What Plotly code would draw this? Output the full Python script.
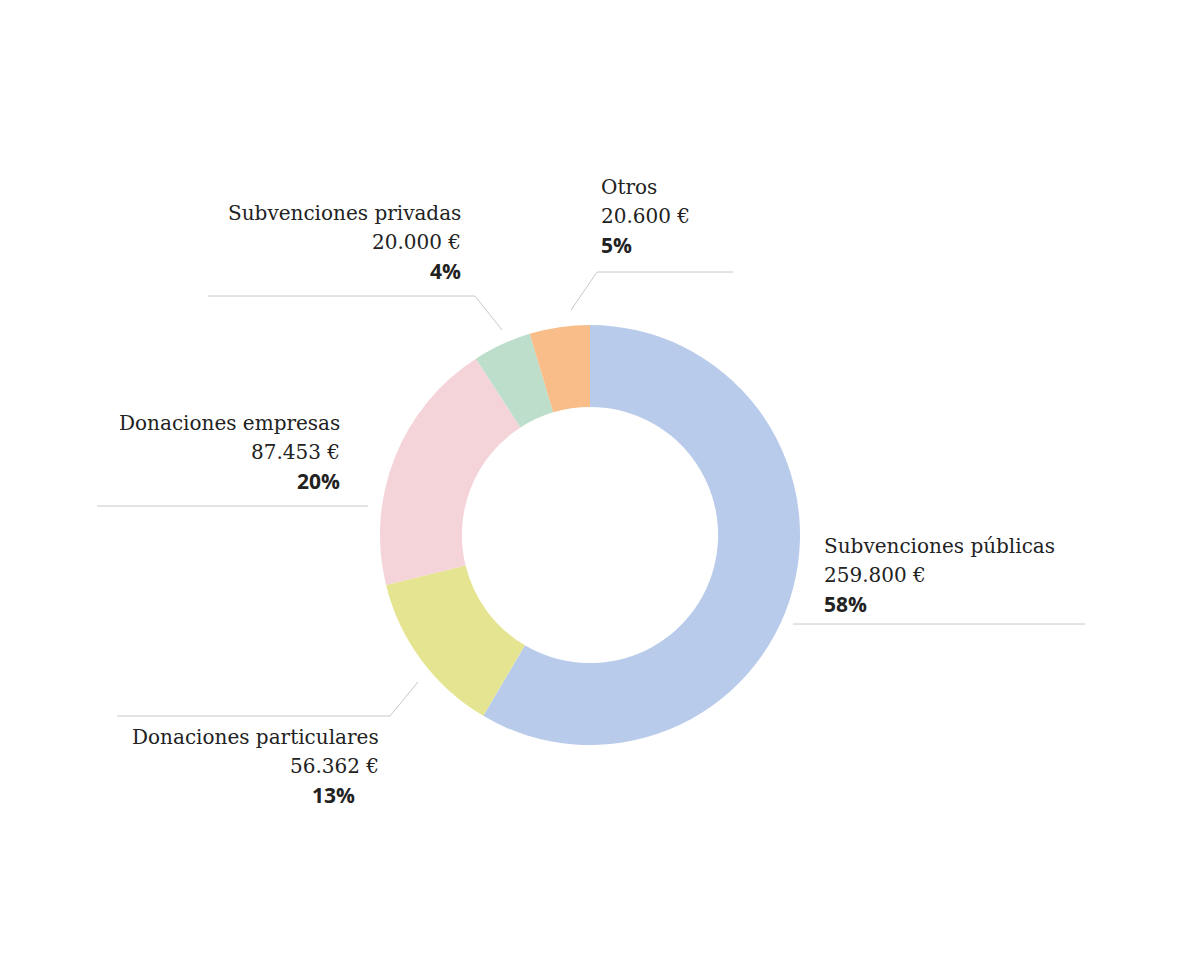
import plotly.graph_objects as go

labels = ["Subvenciones públicas", "Donaciones particulares", "Donaciones empresas", "Subvenciones privadas", "Otros"]
values = [259800, 56362, 87453, 20000, 20600]
amounts = ["259.800 €", "56.362 €", "87.453 €", "20.000 €", "20.600 €"]
percents = ["58%", "13%", "20%", "4%", "5%"]
colors = ["#b9cbeb", "#e5e491", "#f4d4d8", "#bcdeca", "#f8bd89"]

W, H = 1200, 980
def px(x): return (x - 8) / W
def py(y): return 1 - (y - 8) / H

fig = go.Figure(go.Pie(
    labels=labels, values=values, hole=0.61, sort=False, direction="clockwise",
    rotation=0, marker=dict(colors=colors), textinfo="none", hoverinfo="label+value",
    showlegend=False,
    domain=dict(x=[px(380), px(800)], y=[py(745), py(325)]),
))

place = [
    (822, 546, "left", 822),
    (381, 737, "right", 357),
    (342, 423, "right", 342),
    (463, 213, "right", 463),
    (599, 187, "left", 599),
]
serif = dict(family="DejaVu Serif", size=20, color="#222")
bold = dict(family="Open Sans", size=21, color="#222")
ann = []
for i, (x, y, anc, xp) in enumerate(place):
    ann.append(dict(x=px(x), y=py(y), text=labels[i], font=serif))
    ann.append(dict(x=px(x), y=py(y + 29), text=amounts[i], font=serif))
    ann.append(dict(x=px(xp), y=py(y + 58), text="<b>" + percents[i] + "</b>", font=bold))
    for a in ann[-3:]:
        a.update(xref="paper", yref="paper", xanchor=anc, yanchor="middle", showarrow=False)

lines = [
    [(793, 624), (1085, 624)],
    [(117, 716), (390, 716), (418, 682)],
    [(97, 506), (368, 506)],
    [(208, 296), (475, 296), (502, 330)],
    [(733, 272), (597, 272), (571, 310)],
]
shapes = []
for pts in lines:
    for (x0, y0), (x1, y1) in zip(pts[:-1], pts[1:]):
        shapes.append(dict(type="line", xref="paper", yref="paper", x0=px(x0), y0=py(y0),
                           x1=px(x1), y1=py(y1), line=dict(color="#c8c8c8", width=1)))

fig.update_layout(width=W, height=H, margin=dict(l=0, r=0, t=0, b=0),
                  paper_bgcolor="white", plot_bgcolor="white",
                  annotations=ann, shapes=shapes)
fig.write_html("out.html")
